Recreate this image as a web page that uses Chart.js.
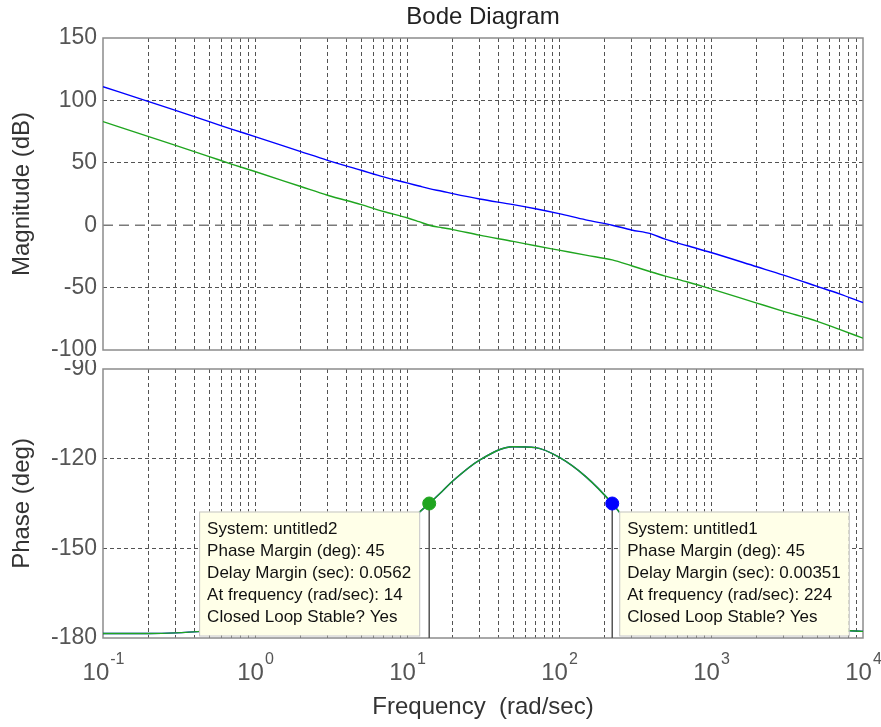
<!DOCTYPE html>
<html>
<head>
<meta charset="utf-8">
<title>Bode Diagram</title>
<script src="https://cdn.jsdelivr.net/npm/chart.js@4.4.0/dist/chart.umd.min.js"></script>
<style>
  html, body { margin: 0; padding: 0; background: #fff; }
  #wrap { position: relative; width: 881px; height: 727px; }
  #magCanvas { position: absolute; left: 0; top: 0; }
  #phaseCanvas { position: absolute; left: 0; top: 360px; }
</style>
</head>
<body>
<div id="wrap">
  <canvas id="magCanvas" width="881" height="360"></canvas>
  <canvas id="phaseCanvas" width="881" height="367"></canvas>
</div>
<script>
// Dados (frequência em rad/s)
const freq = [0.1, 0.2, 0.3, 0.5, 0.7, 1, 2, 3, 5, 7, 10, 12, 14, 17, 20, 30, 50, 70, 100, 150, 224, 300, 400, 500, 700, 1000, 2000, 3000, 5000, 7000, 10000];
const magUntitled1 = [111, 99, 92, 83, 77, 71, 59, 52, 44, 38.7, 33.9, 31.4, 29.3, 27.2, 25.3, 21, 16.5, 13.2, 9.3, 4.3, 0, -3.8, -6.8, -11.2, -16.5, -21.9, -33.3, -40, -49, -55, -62];
const magUntitled2 = [83, 71, 64, 55, 49, 43, 31, 24, 16.5, 11, 6, 2.8, 0, -2, -3.5, -8, -13, -16.5, -20, -24, -27.8, -32.5, -37.3, -40.8, -45.5, -51, -62.4, -69, -77, -83.5, -90.5];
const phaseDeg = [-178.5, -178.5, -178.3, -177.6, -177, -175.5, -171, -166.5, -158, -151, -141.5, -138, -135, -131, -127.5, -120.5, -116, -116.3, -119.5, -126, -135, -143, -150, -155, -161, -166.5, -172.5, -174.5, -176.5, -177.3, -177.8];

const magTicks = [-100, -50, 0, 50, 100, 150];
const phaseTicks = [-180, -150, -120, -90];
const decades = [-1, 0, 1, 2, 3, 4];

// Margens de fase (caixas de anotação)
const marginSystems = ['untitled2', 'untitled1'];
const marginFreq = [14, 224];
const marginPhase = [-135, -135];
const marginDeg = [45, 45];
const delayMargin = ['0.0562', '0.00351'];
const closedLoopStable = ['Yes', 'Yes'];

const BLUE = '#0000ff';
const GREEN = '#1fa51f';
const FONT = "'Liberation Sans', Arial, sans-serif";

// linhas de grade: 1..9 x 10^d
const xGridVals = [];
decades.forEach(d => {
  for (let m = 1; m <= 9; m++) {
    const v = +(m * Math.pow(10, d)).toPrecision(3);
    if (v <= 10000) xGridVals.push(v);
  }
});

function pts(ys) {
  return freq.map((f, i) => ({ x: f, y: ys[i] }));
}

function eixoX(height, withTitle) {
  return {
    type: 'logarithmic',
    min: 0.1,
    max: 10000,
    afterBuildTicks: a => { a.ticks = xGridVals.map(v => ({ value: v })); },
    afterFit: a => { a.height = height; a.paddingLeft = 0; a.paddingRight = 0; },
    ticks: { display: false, autoSkip: false },
    grid: {
      drawTicks: false,
      lineWidth: 1,
      color: c => (c.tick && (c.tick.value === 0.1 || c.tick.value === 10000)) ? 'rgba(0,0,0,0)' : 'rgba(40,40,40,0.8)'
    },
    border: { display: false, dash: [4, 3] },
    title: {
      display: withTitle,
      text: 'Frequency  (rad/sec)',
      color: '#333',
      font: { size: 24, family: FONT },
      padding: { bottom: 5 }
    }
  };
}

function eixoY(min, max, ticks, label) {
  return {
    min: min,
    max: max,
    afterBuildTicks: a => { a.ticks = ticks.map(v => ({ value: v })); },
    afterFit: a => { a.width = 103; a.paddingTop = 0; a.paddingBottom = 0; },
    ticks: { color: '#555', font: { size: 23, family: FONT }, padding: 6 },
    grid: {
      drawTicks: false,
      lineWidth: 1,
      color: c => (c.tick && (c.tick.value === 0 || c.tick.value === min || c.tick.value === max)) ? 'rgba(0,0,0,0)' : 'rgba(40,40,40,0.8)'
    },
    border: { display: false, dash: [4, 3] },
    title: {
      display: true,
      text: label,
      color: '#333',
      font: { size: 24, family: FONT },
      padding: { top: 8 }
    }
  };
}

const moldura = {
  id: 'moldura',
  beforeDatasetsDraw(chart) {
    const { ctx, chartArea: a } = chart;
    ctx.save();
    if (chart.canvas.id === 'magCanvas') {
      const y0 = chart.scales.y.getPixelForValue(0);
      ctx.strokeStyle = '#7a7a7a';
      ctx.lineWidth = 1.5;
      ctx.setLineDash([10, 6]);
      ctx.beginPath();
      ctx.moveTo(a.left, y0);
      ctx.lineTo(a.right, y0);
      ctx.stroke();
      ctx.setLineDash([]);
      // título
      ctx.fillStyle = '#222';
      ctx.font = '24px ' + FONT;
      ctx.textAlign = 'center';
      ctx.textBaseline = 'alphabetic';
      ctx.fillText('Bode Diagram', (a.left + a.right) / 2, 24);
    }
    ctx.strokeStyle = '#8c8c8c';
    ctx.lineWidth = 1.5;
    ctx.strokeRect(a.left, a.top, a.right - a.left, a.bottom - a.top);
    ctx.restore();
  }
};

const caixas = {
  id: 'caixas',
  afterDatasetsDraw(chart) {
    const { ctx } = chart;
    const xs = chart.scales.x, ys = chart.scales.y;
    ctx.save();
    ctx.font = '17px ' + FONT;
    marginFreq.forEach((f, i) => {
      const px = xs.getPixelForValue(f);
      const py = ys.getPixelForValue(marginPhase[i]);
      const linhas = [
        'System: ' + marginSystems[i],
        'Phase Margin (deg): ' + marginDeg[i],
        'Delay Margin (sec): ' + delayMargin[i],
        'At frequency (rad/sec): ' + f,
        'Closed Loop Stable? ' + closedLoopStable[i]
      ];
      const w = Math.max(...linhas.map(l => ctx.measureText(l).width)) + 16;
      const h = 124;
      const left = i === 0 ? px - 10 - w : px + 7;
      const top = py + 8;
      ctx.fillStyle = '#ffffe8';
      ctx.fillRect(left, top, w, h);
      ctx.strokeStyle = '#c4c4c4';
      ctx.lineWidth = 1;
      ctx.strokeRect(left + 0.5, top + 0.5, w, h);
      ctx.fillStyle = '#111';
      ctx.textBaseline = 'middle';
      linhas.forEach((l, k) => ctx.fillText(l, left + 8, top + 18 + k * 22));
    });
    ctx.restore();
  }
};

const rotulosX = {
  id: 'rotulosX',
  afterDraw(chart) {
    const { ctx, chartArea: a } = chart;
    const xs = chart.scales.x;
    ctx.save();
    ctx.fillStyle = '#555';
    ctx.textBaseline = 'alphabetic';
    decades.forEach(d => {
      const x = xs.getPixelForValue(Math.pow(10, d));
      ctx.font = '24px ' + FONT;
      const wb = ctx.measureText('10').width;
      ctx.font = '16px ' + FONT;
      const exp = String(d);
      const we = ctx.measureText(exp).width;
      const x0 = x - (wb + we) / 2;
      ctx.font = '24px ' + FONT;
      ctx.fillText('10', x0, a.bottom + 42);
      ctx.font = '16px ' + FONT;
      ctx.fillText(exp, x0 + wb + 1, a.bottom + 26);
    });
    ctx.restore();
  }
};

const magChart = new Chart(document.getElementById('magCanvas'), {
  type: 'line',
  data: {
    datasets: [
      { label: 'untitled1', data: pts(magUntitled1), borderColor: BLUE, borderWidth: 1.4, pointRadius: 0, cubicInterpolationMode: 'monotone' },
      { label: 'untitled2', data: pts(magUntitled2), borderColor: GREEN, borderWidth: 1.4, pointRadius: 0, cubicInterpolationMode: 'monotone' }
    ]
  },
  options: {
    responsive: false,
    animation: false,
    devicePixelRatio: 1,
    layout: { padding: { top: 38, right: 18, left: 0, bottom: 0 } },
    scales: {
      x: eixoX(10, false),
      y: eixoY(-100, 150, magTicks, 'Magnitude (dB)')
    },
    plugins: {
      legend: { display: false },
      tooltip: { enabled: false },
      title: { display: false }
    }
  },
  plugins: [moldura]
});

const phaseChart = new Chart(document.getElementById('phaseCanvas'), {
  type: 'line',
  data: {
    datasets: [
      { label: 'pm untitled2', data: [{ x: marginFreq[0], y: marginPhase[0] }], showLine: false, pointRadius: 6.5, pointBackgroundColor: GREEN, pointBorderColor: GREEN, order: 0 },
      { label: 'pm untitled1', data: [{ x: marginFreq[1], y: marginPhase[1] }], showLine: false, pointRadius: 6.5, pointBackgroundColor: BLUE, pointBorderColor: BLUE, order: 0 },
      { label: 'stem2', data: [{ x: marginFreq[0], y: marginPhase[0] }, { x: marginFreq[0], y: -180 }], borderColor: '#555', borderWidth: 1.5, pointRadius: 0, order: 1 },
      { label: 'stem1', data: [{ x: marginFreq[1], y: marginPhase[1] }, { x: marginFreq[1], y: -180 }], borderColor: '#555', borderWidth: 1.5, pointRadius: 0, order: 1 },
      { label: 'untitled2', data: pts(phaseDeg), borderColor: GREEN, borderWidth: 1.4, pointRadius: 0, cubicInterpolationMode: 'monotone', order: 2 },
      { label: 'untitled1', data: pts(phaseDeg), borderColor: BLUE, borderWidth: 1.4, pointRadius: 0, cubicInterpolationMode: 'monotone', order: 3 }
    ]
  },
  options: {
    responsive: false,
    animation: false,
    devicePixelRatio: 1,
    layout: { padding: { top: 9, right: 18, left: 0, bottom: 0 } },
    scales: {
      x: eixoX(89, true),
      y: eixoY(-180, -90, phaseTicks, 'Phase (deg)')
    },
    plugins: {
      legend: { display: false },
      tooltip: { enabled: false }
    }
  },
  plugins: [moldura, caixas, rotulosX]
});
</script>
</body>
</html>
